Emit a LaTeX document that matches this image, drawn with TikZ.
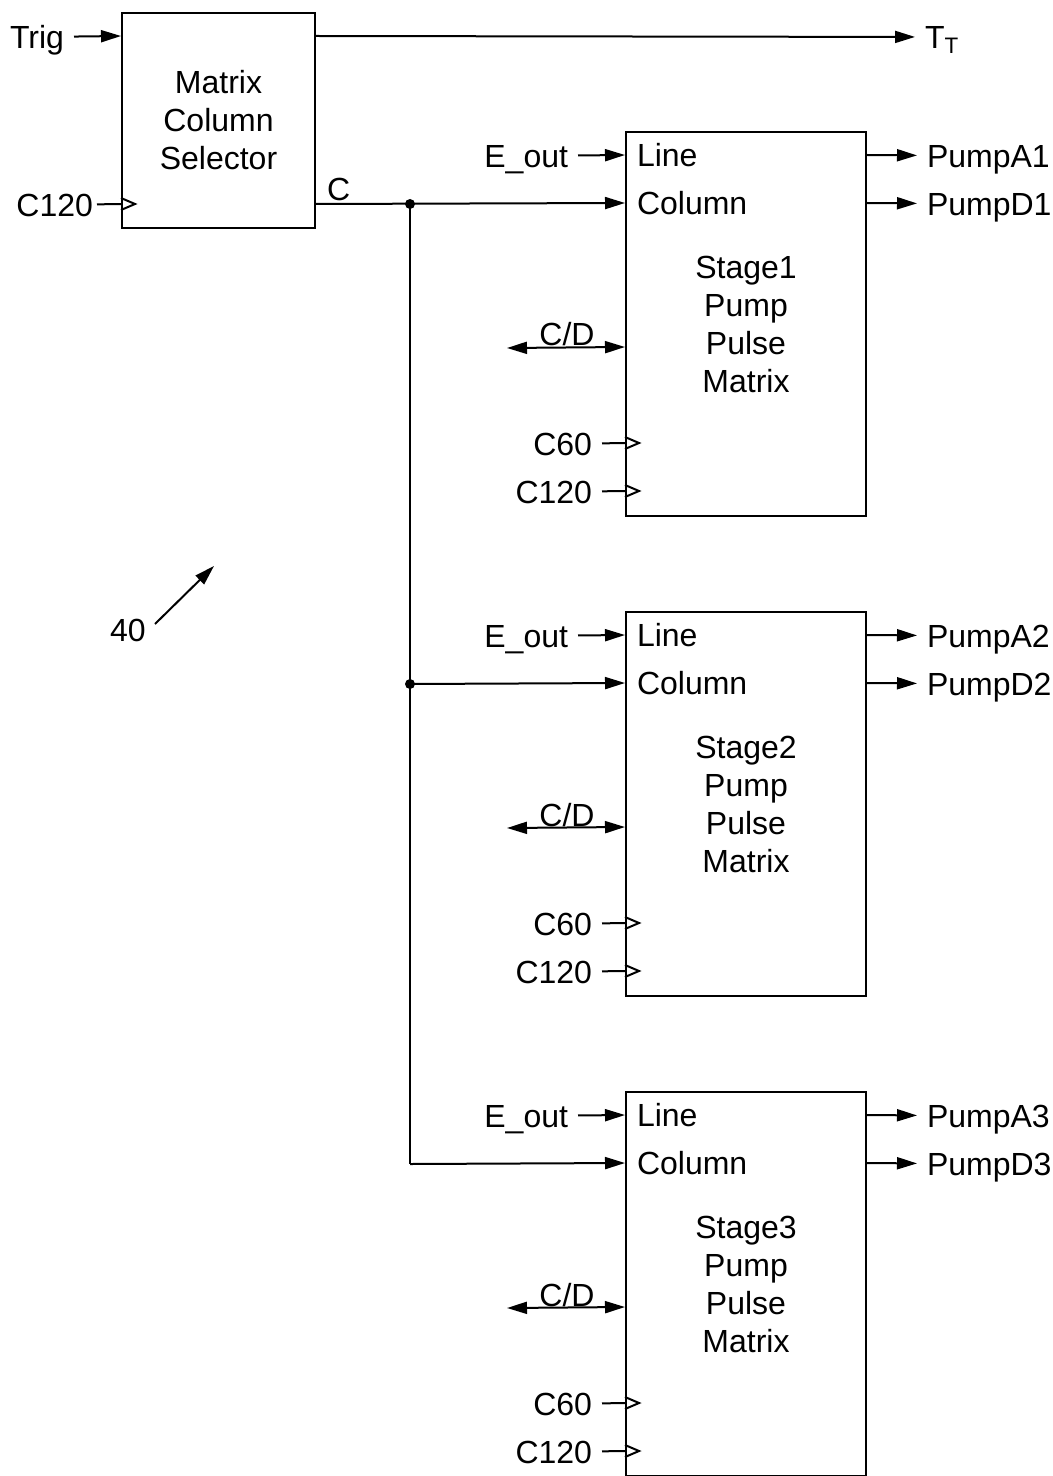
\documentclass[tikz,border=0pt]{standalone}
\usepackage{fontspec}
\setmainfont{Liberation Sans}
\usetikzlibrary{arrows.meta,calc}

\tikzset{every picture/.style={line width=1pt}}
\tikzset{
  lbl/.style={inner sep=0pt, outer sep=0pt, text height=11.5pt, text depth=0pt, font=\fontsize{16}{19}\selectfont},
  pinlbl/.style={lbl, outer sep=5pt},
  blockbox/.style={draw, align=center, inner sep=0pt, minimum width=120pt, minimum height=192pt, font=\fontsize{16}{19}\selectfont},
  selbox/.style={draw, align=center, inner sep=0pt, minimum width=96.5pt, minimum height=107.5pt, font=\fontsize{16}{19}\selectfont},
  sig/.style={-{Triangle[length=10pt,width=6pt]}},
  bisig/.style={{Triangle[length=10pt,width=6pt]}-{Triangle[length=10pt,width=6pt]}}
}
% open clock triangle on a pin
\newcommand{\clkmark}[1]{\draw ($(#1)+(0,-6)$) -- ++(14,6) -- ++(-14,6);}

\begin{document}
\begin{tikzpicture}[x=0.5pt,y=0.5pt,yscale=-1,xscale=1]
\useasboundingbox (0,0) rectangle (1053,1476);

% Selector
\node[selbox] (sel) at (218.5,120.5) {Matrix\\Column\\Selector};
\coordinate (trigpin) at ($(sel.north west)+(0,24)$);
\coordinate (clkpin) at ($(sel.north west)+(0,192)$);
\coordinate (ttpin) at ($(sel.north east)+(0,24)$);
\coordinate (cout) at ($(sel.north east)+(0,192)$);

% Text Node
\node[pinlbl, anchor=east] (trig) at (74,37) {Trig};
\node[pinlbl, outer sep=2pt, anchor=east] (selclk) at (97,205) {C120};
\node[pinlbl, anchor=west] (tt) at (915,37) {T\textsubscript{T}};
\node[lbl, anchor=south west] (clbl) at (327,201) {C};

\draw[sig] (trig) -- (trigpin);
\draw (selclk) -- (clkpin);
\clkmark{clkpin}
\draw[sig] (ttpin) -- (tt);

% Stages
\foreach \s in {1,2,3} {
  \pgfmathsetmacro{\yo}{480*(\s-1)}
  \node[blockbox] (stage\s) at (746,324+\yo) {Stage\s\\Pump\\Pulse\\Matrix};
  \coordinate (linepin\s) at ($(stage\s.north west)+(0,24)$);
  \coordinate (colpin\s) at ($(stage\s.north west)+(0,72)$);
  \coordinate (cdpin\s) at ($(stage\s.north west)+(0,216)$);
  \coordinate (sixtypin\s) at ($(stage\s.north west)+(0,312)$);
  \coordinate (twentypin\s) at ($(stage\s.north west)+(0,360)$);
  \coordinate (apin\s) at ($(stage\s.north east)+(0,24)$);
  \coordinate (dpin\s) at ($(stage\s.north east)+(0,72)$);
  \coordinate (bus\s) at (410,204+\yo);
  \coordinate (cdend\s) at (507,348+\yo);

  % Text Node
  \node[lbl, anchor=west] (line\s) at ($(linepin\s)+(12,0)$) {Line};
  \node[lbl, anchor=west] (col\s) at ($(colpin\s)+(12,0)$) {Column};
  \node[pinlbl, anchor=east] (eout\s) at (578,156+\yo) {E\_out};
  \node[lbl, anchor=south] (cd\s) at (567,346+\yo) {C/D};
  \node[pinlbl, anchor=east] (sixty\s) at (602,444+\yo) {C60};
  \node[pinlbl, anchor=east] (twenty\s) at (602,492+\yo) {C120};
  \node[pinlbl, anchor=west] (pumpA\s) at (917,156+\yo) {PumpA\s};
  \node[pinlbl, anchor=west] (pumpD\s) at (917,204+\yo) {PumpD\s};

  \draw[sig] (eout\s) -- (linepin\s);
  \draw[bisig] (cdend\s) -- (cdpin\s);
  \draw (sixty\s) -- (sixtypin\s);
  \draw (twenty\s) -- (twentypin\s);
  \clkmark{sixtypin\s}
  \clkmark{twentypin\s}
  \draw[sig] (apin\s) -- (pumpA\s);
  \draw[sig] (dpin\s) -- (pumpD\s);
}

% Column bus
\draw[sig] (cout) -- (colpin1);
\draw (bus1) -- (bus3);
\draw[sig] (bus2) -- (colpin2);
\draw[sig] (bus3) -- (colpin3);
\fill (bus1) circle (2.5pt);
\fill (bus2) circle (2.5pt);

% Reference numeral
\node[lbl] (refnum) at (128,630) {40};
\coordinate (refstart) at (155,624);
\coordinate (reftip) at (214,566);
\draw[sig] (refstart) -- (reftip);

\end{tikzpicture}
\end{document}
